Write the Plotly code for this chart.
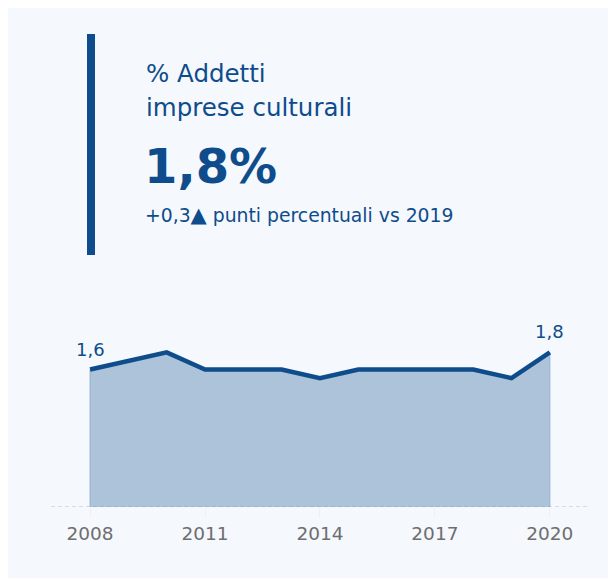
import plotly.graph_objects as go

years = [2008, 2009, 2010, 2011, 2012, 2013, 2014, 2015, 2016, 2017, 2018, 2019, 2020]
values = [1.6, 1.7, 1.8, 1.6, 1.6, 1.6, 1.5, 1.6, 1.6, 1.6, 1.6, 1.5, 1.8]
tick_years = [2008, 2011, 2014, 2017, 2020]
tick_labels = ["2008", "2011", "2014", "2017", "2020"]
title_lines = ["% Addetti", "imprese culturali"]
kpi_text = "1,8%"
delta_text = "+0,3<span style='font-size:21px'>▲</span> punti percentuali vs 2019"

OFF = 8  # page body margin
W, H = 608, 570
L, R, T, B = 43, 29, 310, 71
pw, ph = W - L - R, H - T - B

def px(x):  # page pixel -> paper x
    return (x - OFF - L) / pw

def py(y):  # page pixel -> paper y
    return (H - B - (y - OFF)) / ph

DARK = "#0e4c8b"
FILL = "#adc3da"
PANEL = "#f5f8fd"
FONT = "DejaVu Sans"

def fmt(v):
    return f"{v:.1f}".replace(".", ",")

fig = go.Figure()
fig.add_trace(go.Scatter(
    x=[years[0]] + years + [years[-1]],
    y=[0] + values + [0],
    fill="toself", fillcolor=FILL, mode="lines",
    line=dict(color="#94afcd", width=1), hoverinfo="skip", showlegend=False,
))
fig.add_trace(go.Scatter(
    x=years, y=values, mode="lines",
    line=dict(color=DARK, width=4.5), showlegend=False,
))

shapes = [
    dict(type="rect", xref="paper", yref="paper", x0=px(87), x1=px(95), y0=py(34), y1=py(255),
         fillcolor=DARK, line=dict(width=0)),
    dict(type="line", xref="paper", yref="y", x0=0, x1=1, y0=0, y1=0, layer="above",
         line=dict(color="rgba(120,128,140,0.45)", width=1, dash="4px,3px")),
]

annotations = [
    dict(text=title_lines[0], x=px(144), y=py(74), xref="paper", yref="paper",
         xanchor="left", yanchor="middle", showarrow=False,
         font=dict(family=FONT, size=24.5, color=DARK)),
    dict(text=title_lines[1], x=px(144), y=py(107), xref="paper", yref="paper",
         xanchor="left", yanchor="middle", showarrow=False,
         font=dict(family=FONT, size=24.5, color=DARK)),
    dict(text=f"<b>{kpi_text}</b>", x=px(142), y=py(166), xref="paper", yref="paper",
         xanchor="left", yanchor="middle", showarrow=False,
         font=dict(family=FONT, size=48, color=DARK)),
    dict(text=delta_text, x=px(143), y=py(215), xref="paper", yref="paper",
         xanchor="left", yanchor="middle", showarrow=False,
         font=dict(family=FONT, size=18.8, color=DARK)),
]
for i in (0, len(values) - 1):
    annotations.append(dict(
        text=fmt(values[i]), x=years[i], y=values[i], xref="x", yref="y",
        xanchor="center", yanchor="bottom", yshift=8, showarrow=False,
        font=dict(family=FONT, size=18, color=DARK)))

fig.update_layout(
    width=W, height=H,
    margin=dict(l=L, r=R, t=T, b=B, pad=0),
    paper_bgcolor=PANEL, plot_bgcolor="rgba(0,0,0,0)",
    shapes=shapes, annotations=annotations,
    xaxis=dict(range=[2006.98, 2020.97], tickvals=tick_years, ticktext=tick_labels,
               showgrid=False, zeroline=False, showline=False,
               ticks="outside", ticklen=10, tickcolor="#eef0f3",
               tickfont=dict(family=FONT, size=18.5, color="#6e6e6e")),
    yaxis=dict(range=[0, 2.2], visible=False, showgrid=False, zeroline=False),
)

fig.write_html("out.html")
